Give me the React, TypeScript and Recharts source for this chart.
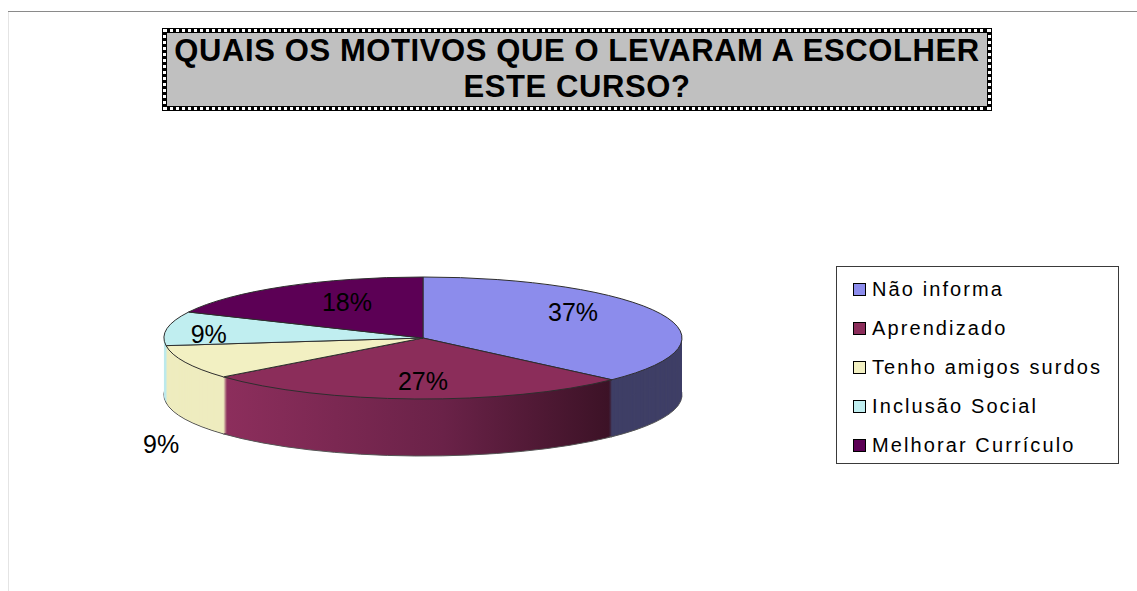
import React from 'react';
import { PieChart, Pie, Legend } from 'recharts';

const categories = ['Não informa', 'Aprendizado', 'Tenho amigos surdos', 'Inclusão Social', 'Melhorar Currículo'];
const percentages = [37, 27, 9, 9, 18];
const topColors = ['#8c8cec', '#8b2d5a', '#f2f0c2', '#c0eef0', '#5c0055'];
const sideColors = ['#3f3f66', 'url(#aprendSide)', '#eeecbf', '#bde9ec', '#3a0036'];
const titleLines = ['QUAIS OS MOTIVOS QUE O LEVARAM A ESCOLHER', 'ESTE CURSO?'];

const W = 1137;
const H = 591;
const K = 61 / 259; // vertical squash of the tilted pie
const R = 259;
const CX = 423;
const CY = 338 / K;
const DEPTH = 57;
const FONT = '"Liberation Sans", Arial, sans-serif';

// where each percentage sits: radius factor, angle shift (deg), drop below the side (px)
const labelPlace = [
  { r: 0.72, shift: 13, drop: 0 },
  { r: 0.7, shift: 1.8, drop: 0 },
  { r: 1.29, shift: 15, drop: DEPTH },
  { r: 0.83, shift: 4.4, drop: 0 },
  { r: 0.66, shift: -6, drop: 0 },
];

const topData = categories.map((name, i) => ({ name, value: percentages[i], fill: topColors[i] }));
const sideData = categories.map((name, i) => ({ name, value: percentages[i], fill: sideColors[i] }));
const layers = Array.from({ length: DEPTH }, (_, i) => DEPTH - i);

// labels are drawn outside the squashed group, so project them to the screen here
const renderLabel = (p: any) => {
  const place = labelPlace[p.index];
  const a = ((p.midAngle + place.shift) * Math.PI) / 180;
  const x = p.cx + p.outerRadius * place.r * Math.cos(a);
  const y = K * (p.cy - p.outerRadius * place.r * Math.sin(a)) + place.drop;
  return (
    <text
      key={`lbl-${p.index}`}
      x={x}
      y={y}
      textAnchor="middle"
      dominantBaseline="central"
      fontSize={25}
      fontFamily={FONT}
      fill="#000"
    >
      {`${p.value}%`}
    </text>
  );
};

const LegendBox = ({ payload }: any) => {
  const byName = new Map<string, any>();
  (payload || []).forEach((e: any) => {
    if (e.type !== 'none') byName.set(e.value, e);
  });
  const items = Array.from(byName.values()).sort(
    (a: any, b: any) => categories.indexOf(a.value) - categories.indexOf(b.value)
  );
  return (
    <div
      style={{
        boxSizing: 'border-box',
        width: 283,
        height: 198,
        border: '1.5px solid #3a3a3a',
        background: '#fff',
        paddingTop: 3,
        paddingLeft: 16,
        fontFamily: FONT,
        fontSize: 20,
        letterSpacing: 2.1,
        color: '#000',
      }}
    >
      {items.map((e: any) => (
        <div key={e.value} style={{ height: 39, display: 'flex', alignItems: 'center' }}>
          <span
            style={{
              display: 'inline-block',
              width: 11,
              height: 11,
              border: '1px solid #000',
              background: e.color,
              marginRight: 6,
            }}
          />
          <span>{e.value}</span>
        </div>
      ))}
    </div>
  );
};

export default function App() {
  return (
    <div
      style={{
        position: 'absolute',
        left: 0,
        top: 0,
        width: W,
        height: H,
        background: '#fff',
        overflow: 'hidden',
        fontFamily: FONT,
      }}
    >
      <style>{`
        .pie3d { transform: scale(1, ${K}); transform-origin: 0px 0px; transform-box: view-box; }
        .pie3d .pie3d { transform: none; }
        .pie3d path { vector-effect: non-scaling-stroke; }
      `}</style>
      <div style={{ position: 'absolute', left: 8, top: 11, width: W - 8, height: 1, background: '#8a8a8a' }} />
      <div style={{ position: 'absolute', left: 8, top: 12, width: 1, height: H - 12, background: '#e4e4e4' }} />

      <div
        style={{
          position: 'absolute',
          left: 163,
          top: 29,
          width: 828,
          height: 81,
          boxSizing: 'border-box',
          background: '#000',
          border: '3px dotted #fff',
          outline: '1px solid #000',
        }}
      >
        <div
          style={{
            position: 'absolute',
            inset: 1,
            background: '#c0c0c0',
            textAlign: 'center',
            fontWeight: 'bold',
            fontSize: 31,
            letterSpacing: 0.6,
            lineHeight: '36px',
            paddingTop: 0,
            color: '#000',
          }}
        >
          {titleLines.map((t) => (
            <div key={t}>{t}</div>
          ))}
        </div>
      </div>

      <div style={{ position: 'absolute', left: 0, top: 0 }}>
        <PieChart width={W} height={H} margin={{ top: 0, right: 0, bottom: 0, left: 0 }}>
          <defs>
            <linearGradient id="aprendSide" gradientUnits="userSpaceOnUse" x1={228} y1={0} x2={620} y2={0}>
              <stop offset="0%" stopColor="#8c2e5c" />
              <stop offset="55%" stopColor="#6a2248" />
              <stop offset="100%" stopColor="#391124" />
            </linearGradient>
          </defs>
          {layers.map((d) => (
            <Pie
              key={`side-${d}`}
              className="pie3d"
              data={sideData}
              dataKey="value"
              nameKey="name"
              cx={CX}
              cy={CY + d / K}
              outerRadius={R}
              startAngle={90}
              endAngle={-270}
              stroke={d === DEPTH ? '#555' : 'none'}
              strokeWidth={1}
              legendType="none"
              isAnimationActive={false}
            />
          ))}
          <Pie
            className="pie3d"
            data={topData}
            dataKey="value"
            nameKey="name"
            cx={CX}
            cy={CY}
            outerRadius={R}
            startAngle={90}
            endAngle={-270}
            stroke="#2e2e2e"
            strokeWidth={1}
            label={renderLabel}
            labelLine={false}
            isAnimationActive={false}
          />
          <Legend
            layout="vertical"
            align="right"
            verticalAlign="middle"
            content={<LegendBox />}
            wrapperStyle={{ position: 'absolute', left: 836, top: 266, width: 283, height: 198 }}
          />
        </PieChart>
      </div>
    </div>
  );
}
